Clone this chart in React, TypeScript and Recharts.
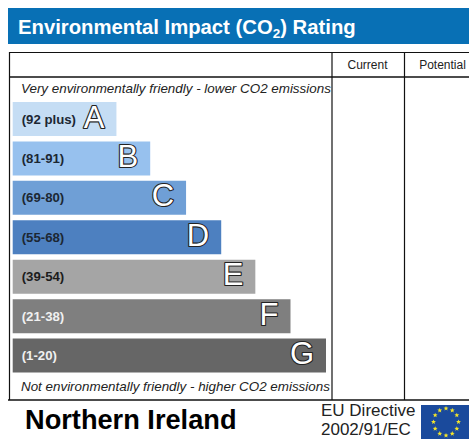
import { BarChart, Bar, XAxis, YAxis, Cell, LabelList } from "recharts";

const ratings = ["A", "B", "C", "D", "E", "F", "G"];
const ranges = ["(92 plus)", "(81-91)", "(69-80)", "(55-68)", "(39-54)", "(21-38)", "(1-20)"];
const bandLengths = [2.98, 3.95, 4.98, 5.99, 6.97, 7.98, 9];

const bandColors = ["#c5ddf4", "#97c1ee", "#6f9fd6", "#4d80c0", "#a5a5a5", "#7f7f7f", "#666666"];
const rangeColors = ["#1c2733", "#1c2733", "#1c2733", "#1c2733", "#1c1c1c", "#f0f0f0", "#f0f0f0"];

const rows = ratings.map((rating, i) => ({
  rating,
  range: ranges[i],
  length: bandLengths[i],
}));

const font = "'Liberation Sans', Arial, sans-serif";

// eu flag has twelve stars on a ring
const starAngles = [0, 30, 60, 90, 120, 150, 180, 210, 240, 270, 300, 330];

function starPoints(cx: number, cy: number, r: number) {
  const pts: string[] = [];
  for (let i = 0; i < 10; i++) {
    const a = (Math.PI / 5) * i - Math.PI / 2;
    const d = i % 2 === 0 ? r : r * 0.42;
    pts.push(`${cx + d * Math.cos(a)},${cy + d * Math.sin(a)}`);
  }
  return pts.join(" ");
}

const RangeLabel = (props: any) => {
  const { x, y, height, index } = props;
  return (
    <text
      x={x + 9}
      y={y + height / 2 + 4.5}
      fontFamily={font}
      fontWeight="bold"
      fontSize={13.2}
      fill={rangeColors[index]}
    >
      {ranges[index]}
    </text>
  );
};

const LetterLabel = (props: any) => {
  const { x, y, width, height, index } = props;
  return (
    <text
      x={x + width - 12}
      y={y + height / 2 + 8.5}
      textAnchor="end"
      fontFamily={font}
      fontSize={31}
      fill="#ffffff"
      stroke="#222222"
      strokeWidth={2.2}
      strokeLinejoin="round"
      style={{ paintOrder: "stroke" }}
    >
      {ratings[index]}
    </text>
  );
};

// coordinates are relative to the box, which sits at 8,8 like the reference
function Frame() {
  return (
    <svg width={461} height={431} style={{ position: "absolute", left: 0, top: 0 }}>
      <rect x={0} y={0} width={461} height={36} fill="#0870b5" />
      <text x={10} y={26} fontFamily={font} fontWeight="bold" fontSize={20.3} fill="#ffffff">
        Environmental Impact (CO
        <tspan fontSize={13.5} dy={4}>2</tspan>
        <tspan dy={-4}>) Rating</tspan>
      </text>

      <g stroke="#111111" strokeWidth={1.2}>
        <line x1={1} y1={44.5} x2={461} y2={44.5} />
        <line x1={1} y1={69} x2={461} y2={69} strokeWidth={1.6} />
        <line x1={1.5} y1={44} x2={1.5} y2={392} />
        <line x1={324} y1={44} x2={324} y2={392} />
        <line x1={396.5} y1={44} x2={396.5} y2={392} />
        <line x1={0} y1={392} x2={461} y2={392} strokeWidth={1.6} />
      </g>

      <text x={359.5} y={61} textAnchor="middle" fontFamily={font} fontSize={12} fill="#222222">
        Current
      </text>
      <text x={434.5} y={61} textAnchor="middle" fontFamily={font} fontSize={12} fill="#222222">
        Potential
      </text>

      <text x={13} y={85} fontFamily={font} fontStyle="italic" fontSize={13.4} fill="#222222">
        Very environmentally friendly - lower CO2 emissions
      </text>
      <text x={13} y={383} fontFamily={font} fontStyle="italic" fontSize={13.4} fill="#222222">
        Not environmentally friendly - higher CO2 emissions
      </text>

      <text x={17} y={421} fontFamily={font} fontWeight="bold" fontSize={27.2} fill="#000000">
        Northern Ireland
      </text>
      <text x={313} y={408} fontFamily={font} fontSize={17} fill="#222222">
        EU Directive
      </text>
      <text x={313} y={427.4} fontFamily={font} fontSize={17} fill="#222222">
        2002/91/EC
      </text>

      <rect x={413} y={397} width={48} height={34} fill="#1a4a9c" />
      {starAngles.map((deg) => (
        <polygon
          key={deg}
          points={starPoints(
            438 + 12.5 * Math.cos((deg * Math.PI) / 180),
            414 + 13.5 * Math.sin((deg * Math.PI) / 180),
            2.6,
          )}
          fill="#f5e62a"
        />
      ))}
    </svg>
  );
}

export default function App() {
  return (
    <div style={{ position: "absolute", left: 8, top: 8, width: 461, height: 431, overflow: "hidden" }}>
      <Frame />
      <div style={{ position: "absolute", left: 0, top: 0 }}>
        <BarChart
          width={461}
          height={431}
          data={rows}
          layout="vertical"
          barSize={34}
          margin={{ top: 91, right: 143, bottom: 64, left: 4.7 }}
        >
          <XAxis type="number" domain={[0, 9]} hide />
          <YAxis type="category" dataKey="rating" hide />
          <Bar dataKey="length" isAnimationActive={false}>
            {rows.map((row, i) => (
              <Cell key={row.rating} fill={bandColors[i]} />
            ))}
            <LabelList dataKey="range" content={RangeLabel} />
            <LabelList dataKey="rating" content={LetterLabel} />
          </Bar>
        </BarChart>
      </div>
    </div>
  );
}
